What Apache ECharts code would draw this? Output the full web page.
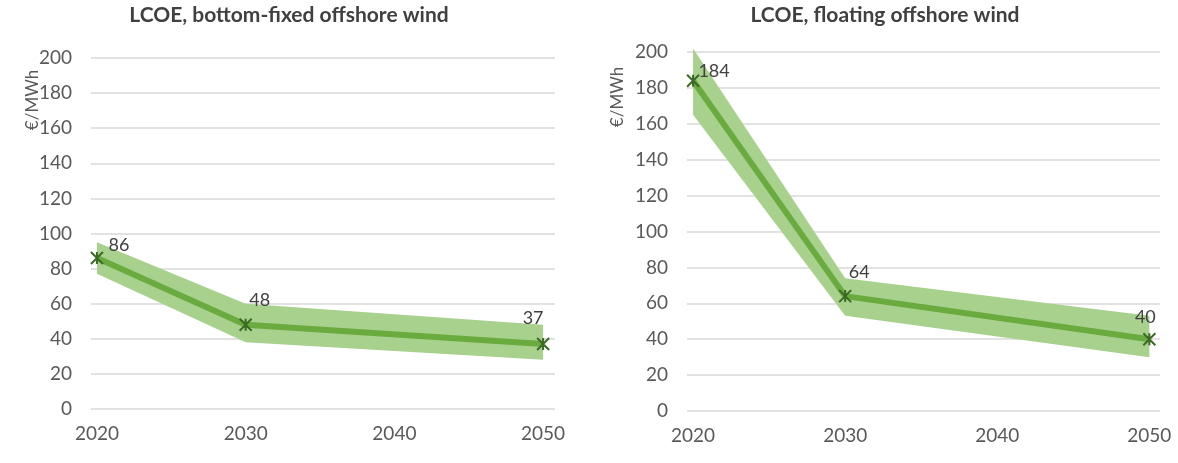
<!DOCTYPE html>
<html>
<head>
<meta charset="utf-8">
<script src="https://cdn.jsdelivr.net/npm/echarts@6/dist/echarts.min.js"></script>
<style>
html,body{margin:0;padding:0;background:#fff;}
#chart{width:1178px;height:463px;}
</style>
</head>
<body>
<div id="chart"></div>
<script>
// ---- data ----
const titles = ['LCOE, bottom-fixed offshore wind', 'LCOE, floating offshore wind'];
const yAxisName = '€/MWh';
const years = [2020, 2030, 2050];
const xTickYears = [2020, 2030, 2040, 2050];
const yTicks = [0, 20, 40, 60, 80, 100, 120, 140, 160, 180, 200];
const bottomFixedLcoe = [86, 48, 37];
const bottomFixedLow = [77, 38, 28];
const bottomFixedHigh = [95, 60, 48];
const floatingLcoe = [184, 64, 40];
const floatingLow = [165, 53, 30];
const floatingHigh = [202, 74, 53];

// ---- styles ----
const FONT = 'Lato, "Open Sans", sans-serif';
const LINE_COLOR = '#6aab3f';
const BAND_COLOR = '#a9d18e';
const MARK_COLOR = '#3b6a25';
const labelOffsets = [
  [[22, 7], [14, -5], [-10, -6]],
  [[21, 10], [14, -4], [-4, -2]]
];
const grids = [
  {left: 91, width: 464, top: 58, height: 351},
  {left: 687, width: 473, top: 52, height: 359}
];
const titleX = [284, 880];
const nameX = [33, 618];
const nameY = [100, 97];

const starPath = 'path://M0,0 L10,10 M10,0 L0,10 M5,0 L5,10';

function pairs(vals){ return years.map((y, i) => [y, vals[i]]); }

const panels = [
  {mid: bottomFixedLcoe, low: bottomFixedLow, high: bottomFixedHigh},
  {mid: floatingLcoe, low: floatingLow, high: floatingHigh}
];

const option = {
  animation: false,
  backgroundColor: '#ffffff',
  textStyle: {fontFamily: FONT},
  title: titles.map((t, i) => ({
    text: t, left: titleX[i], top: 0, textAlign: 'center',
    textStyle: {fontFamily: FONT, fontSize: 21, fontWeight: 'bold', color: '#404040'}
  })),
  graphic: nameX.map((x, i) => ({
    type: 'text', x: x, y: nameY[i], rotation: Math.PI / 2, originX: 0, originY: 0,
    style: {text: yAxisName, font: '17px ' + FONT, fill: '#595959', align: 'center', verticalAlign: 'middle'}
  })),
  grid: grids,
  xAxis: grids.map((g, i) => ({
    type: 'value', gridIndex: i, min: 2019.6, max: i === 0 ? 2050.8 : 2050.7,
    axisLine: {show: false}, axisTick: {show: false},
    splitLine: {show: false},
    axisLabel: {customValues: xTickYears, color: '#595959', fontSize: 19, fontFamily: FONT, margin: 15,
      formatter: v => String(v)}
  })),
  yAxis: grids.map((g, i) => ({
    type: 'value', gridIndex: i, min: 0, max: 200, interval: 20,
    axisLine: {show: false}, axisTick: {show: false},
    splitLine: {show: true, lineStyle: {color: '#d9d9d9', width: 1.5}},
    axisLabel: {color: '#595959', fontSize: 19, fontFamily: FONT, margin: 19,
      formatter: v => yTicks.includes(v) ? String(v) : ''}
  })),
  series: []
};

panels.forEach((p, i) => {
  option.series.push({
    type: 'custom', xAxisIndex: i, yAxisIndex: i, silent: true, z: 1,
    data: years.map((y, k) => [y, p.low[k], p.high[k]]),
    encode: {x: 0, y: [1, 2]},
    renderItem: (params, api) => {
      if (params.dataIndex !== 0) return null;
      const pts = [];
      for (let k = 0; k < years.length; k++) pts.push(api.coord([years[k], p.high[k]]));
      for (let k = years.length - 1; k >= 0; k--) pts.push(api.coord([years[k], p.low[k]]));
      return {type: 'polygon', shape: {points: pts}, style: {fill: BAND_COLOR}};
    }
  });
  option.series.push({
    type: 'line', xAxisIndex: i, yAxisIndex: i,
    data: pairs(p.mid).map((d, k) => ({
      value: d,
      label: {offset: labelOffsets[i][k]}
    })),
    lineStyle: {color: LINE_COLOR, width: 6},
    itemStyle: {color: 'transparent', borderColor: MARK_COLOR, borderWidth: 2},
    symbol: starPath, symbolSize: 12, showAllSymbol: true,
    label: {show: true, position: 'top', distance: 4, color: '#404040', fontSize: 18, fontFamily: FONT,
      formatter: prm => String(prm.value[1])},
    z: 3
  });
});

const chart = echarts.init(document.getElementById('chart'), null, {renderer: 'canvas'});
chart.setOption(option);
</script>
</body>
</html>
